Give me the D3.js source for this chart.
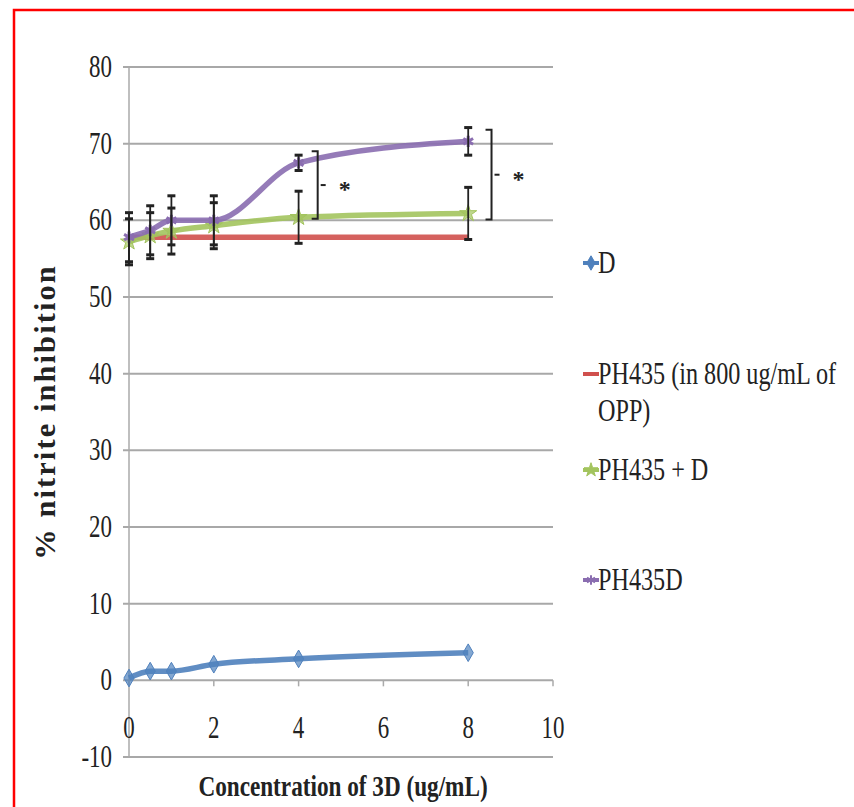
<!DOCTYPE html>
<html>
<head>
<meta charset="utf-8">
<script src="https://cdn.jsdelivr.net/npm/d3@7"></script>
<style>
  body { margin: 0; background: #fff; }
  text { font-family: "Liberation Serif", "Times New Roman", serif; fill: #222; }
</style>
</head>
<body>
<div id="chart"></div>
<script>
// Nitrite inhibition chart

const concentrations = [0, 0.5, 1, 2, 4, 8]
const dValues = [0.3, 1.2, 1.2, 2.1, 2.8, 3.6]
const ph435Values = [57.8, 57.8, 57.8, 57.8, 57.8, 57.8]
const ph435PlusDValues = [57.2, 58, 58.6, 59.3, 60.4, 60.9]
const ph435DValues = [57.8, 58.7, 60, 60, 67.5, 70.3]
const ph435PlusDErrors = [3, 3, 3, 3, 3.4, 3.4]
const ph435DErrors = [3.2, 3.2, 3.2, 3.2, 1, 1.8]
const yTicks = [-10, 0, 10, 20, 30, 40, 50, 60, 70, 80]
const xTicks = [0, 2, 4, 6, 8, 10]
const brackets = [
  { x: 4.45, low: 60.2, high: 69 },
  { x: 8.55, low: 60.1, high: 71.8 }
]

const series = [
  { name: 'D', values: dValues, errors: null, color: '#4f81bd', marker: 'diamond' },
  { name: 'PH435 (in 800 ug/mL of|OPP)', values: ph435Values, errors: null, color: '#d0504d', marker: 'none' },
  { name: 'PH435 + D', values: ph435PlusDValues, errors: ph435PlusDErrors, color: '#a3c45e', marker: 'star' },
  { name: 'PH435D', values: ph435DValues, errors: ph435DErrors, color: '#8a6db0', marker: 'cross' }
]

const width = 854
const height = 807

const svg = d3.select('#chart')
  .append('svg')
  .attr('width', width)
  .attr('height', height)

// red frame
svg.append('rect')
  .attr('x', 14).attr('y', 10)
  .attr('width', 860).attr('height', 820)
  .attr('fill', 'none')
  .attr('stroke', '#f00')
  .attr('stroke-width', 2.5)

const x = d3.scaleLinear().domain([0, 10]).range([129, 553])
const y = d3.scaleLinear().domain([-10, 80]).range([757, 67])

// gridlines
svg.append('g')
  .selectAll('line')
  .data(yTicks)
  .enter().append('line')
  .attr('x1', 123).attr('x2', 553)
  .attr('y1', d => y(d)).attr('y2', d => y(d))
  .attr('stroke', '#a8a8a8')
  .attr('stroke-width', 2)

// y axis line
svg.append('line')
  .attr('x1', x(0)).attr('x2', x(0))
  .attr('y1', y(80)).attr('y2', y(-10))
  .attr('stroke', '#aaa').attr('stroke-width', 1.5)

// x ticks on the zero line
svg.append('g')
  .selectAll('line')
  .data(xTicks)
  .enter().append('line')
  .attr('x1', d => x(d)).attr('x2', d => x(d))
  .attr('y1', y(0)).attr('y2', y(0) + 6)
  .attr('stroke', '#aaa').attr('stroke-width', 1.5)

// y tick labels
svg.append('g')
  .selectAll('g')
  .data(yTicks)
  .enter().append('g')
  .attr('transform', d => `translate(112, ${y(d) + 10}) scale(0.74, 1)`)
  .append('text')
  .attr('text-anchor', 'end')
  .style('font-size', '31px')
  .text(d => d)

// x tick labels
svg.append('g')
  .selectAll('g')
  .data(xTicks)
  .enter().append('g')
  .attr('transform', d => `translate(${x(d)}, 738) scale(0.74, 1)`)
  .append('text')
  .attr('text-anchor', 'middle')
  .style('font-size', '31px')
  .text(d => d)

// axis titles
svg.append('g')
  .attr('transform', 'translate(343, 796) scale(0.8, 1)')
  .append('text')
  .attr('text-anchor', 'middle')
  .style('font-size', '29px')
  .style('font-weight', 'bold')
  .text('Concentration of 3D (ug/mL)')

svg.append('g')
  .attr('transform', 'translate(55, 412) rotate(-90) scale(1.05, 1)')
  .append('text')
  .attr('text-anchor', 'middle')
  .style('font-size', '29px')
  .style('font-weight', 'bold')
  .style('letter-spacing', '2px')
  .text('% nitrite inhibition')

// markers
const markerPath = (type, size) => {
  if (type === 'diamond') return d3.symbol().type(d3.symbolDiamond).size(size)()
  if (type === 'star') return d3.symbol().type(d3.symbolStar).size(size)()
  if (type === 'cross') return d3.symbol().type(d3.symbolAsterisk).size(size)()
  return null
}

const line = d3.line()
  .x((d, i) => x(concentrations[i]))
  .y(d => y(d))
  .curve(d3.curveMonotoneX)

// draw order: D, red, green, purple
series.forEach(s => {
  const g = svg.append('g')
  g.append('path')
    .datum(s.values)
    .attr('d', line)
    .attr('fill', 'none')
    .attr('stroke', s.color)
    .attr('stroke-width', 5.5)
    .attr('stroke-opacity', 0.9)

  if (s.marker !== 'none') {
    g.selectAll('path.mk')
      .data(s.values)
      .enter().append('path')
      .attr('class', 'mk')
      .attr('d', markerPath(s.marker, 90))
      .attr('transform', (d, i) => `translate(${x(concentrations[i])}, ${y(d)})`)
      .attr('fill', s.color)
      .attr('fill-opacity', 0.7)
      .attr('stroke', s.color)
      .attr('stroke-width', s.marker === 'cross' ? 3 : 1)
  }
})

// error bars
series.filter(s => s.errors).forEach(s => {
  const eb = svg.append('g')
    .selectAll('g')
    .data(s.values.map((v, i) => ({ v, e: s.errors[i], c: concentrations[i] })))
    .enter().append('g')
  eb.append('line')
    .attr('x1', d => x(d.c)).attr('x2', d => x(d.c))
    .attr('y1', d => y(d.v + d.e)).attr('y2', d => y(d.v - d.e))
    .attr('stroke', '#222').attr('stroke-width', 1.8)
  ;[1, -1].forEach(sign => {
    eb.append('line')
      .attr('x1', d => x(d.c) - 4).attr('x2', d => x(d.c) + 4)
      .attr('y1', d => y(d.v + sign * d.e)).attr('y2', d => y(d.v + sign * d.e))
      .attr('stroke', '#222').attr('stroke-width', 3)
  })
})

// significance brackets
const br = svg.append('g')
  .selectAll('g')
  .data(brackets)
  .enter().append('g')
br.append('path')
  .attr('d', d => `M${x(d.x) - 6},${y(d.high)} H${x(d.x)} V${y(d.low)} H${x(d.x) - 6}`)
  .attr('fill', 'none')
  .attr('stroke', '#222')
  .attr('stroke-width', 2)
br.append('line')
  .attr('x1', d => x(d.x) + 3).attr('x2', d => x(d.x) + 8)
  .attr('y1', d => y((d.low + d.high) / 2)).attr('y2', d => y((d.low + d.high) / 2))
  .attr('stroke', '#222').attr('stroke-width', 2)
br.append('text')
  .attr('x', d => x(d.x) + 27)
  .attr('y', d => y((d.low + d.high) / 2) + 12)
  .attr('text-anchor', 'middle')
  .style('font-size', '24px')
  .style('font-weight', 'bold')
  .text('*')

// legend
const legendRows = [263, 374, 470, 580]
const legend = svg.append('g')
  .selectAll('g')
  .data(series)
  .enter().append('g')
  .attr('transform', (d, i) => `translate(583, ${legendRows[i]})`)
legend.append('line')
  .attr('x1', 0).attr('x2', 16)
  .attr('stroke', d => d.color)
  .attr('stroke-width', 4)
legend.filter(d => d.marker !== 'none')
  .append('path')
  .attr('d', d => markerPath(d.marker, 60))
  .attr('transform', 'translate(8, 0)')
  .attr('fill', d => d.color)
  .attr('stroke', d => d.color)
  .attr('stroke-width', d => d.marker === 'cross' ? 2 : 1)
legend.each(function (d) {
  const lines = d.name.split('|')
  lines.forEach((t, j) => {
    d3.select(this).append('g')
      .attr('transform', `translate(15, ${10 + j * 37}) scale(0.78, 1)`)
      .append('text')
      .style('font-size', '31px')
      .text(t)
  })
})
</script>
</body>
</html>
